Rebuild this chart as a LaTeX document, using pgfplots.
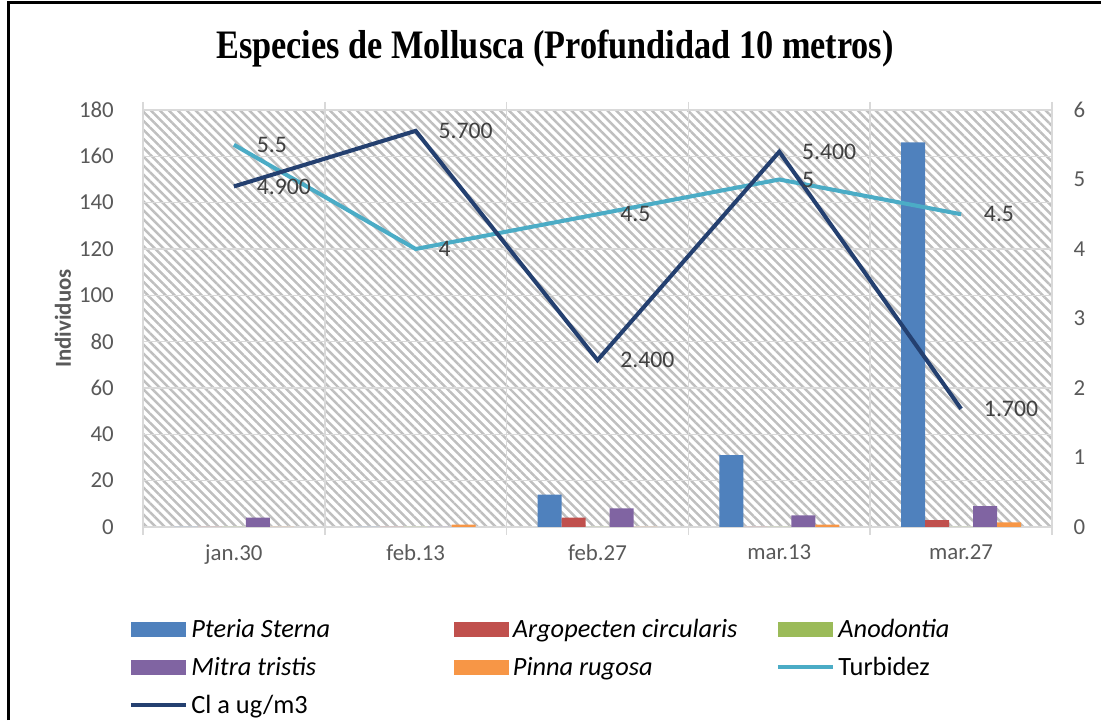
\documentclass[border=0pt]{standalone}
\usepackage{fontspec}
\setmainfont{Carlito}
\newfontfamily\titlefont{Liberation Serif}
\usepackage{pgfplots}
\pgfplotsset{compat=1.18}
\usetikzlibrary{patterns.meta}

\definecolor{cPteria}{RGB}{79,129,189}
\definecolor{cArgo}{RGB}{192,80,77}
\definecolor{cAnod}{RGB}{155,187,89}
\definecolor{cMitra}{RGB}{128,100,162}
\definecolor{cPinna}{RGB}{247,150,70}
\definecolor{cTurb}{RGB}{75,172,198}
\definecolor{cCl}{RGB}{36,64,112}
\definecolor{labgray}{RGB}{89,89,89}
\definecolor{datgray}{RGB}{64,64,64}

\pgfplotsset{
  barleg/.style={legend image code/.code={\fill[##1, draw=none] (0cm,-0.15cm) rectangle (1.1cm,0.15cm);}},
  lineleg/.style={legend image code/.code={\draw[##1] (0cm,0cm) -- (1.1cm,0cm);}},
  common/.style={
    at={(2.86cm,3.86cm)}, anchor=south west,
    scale only axis, width=18.18cm, height=8.34cm,
    xmin=-0.5, xmax=4.5,
    tick label style={font=\fontsize{13}{15}\selectfont, text=labgray},
    /pgf/number format/assume math mode=true,
  },
}

\begin{document}
\begin{tikzpicture}
\useasboundingbox (0,0) rectangle (22.02,14.4);
\draw[line width=0.045cm] (0.17,0) -- (0.17,14.35) -- (22.02,14.35);
\node[font=\titlefont\bfseries\fontsize{19.5}{22}\selectfont] at (11.1,13.42)
  {\scalebox{1}[1.18]{Especies de Mollusca (Profundidad 10 metros)}};

% bars, left axis
\begin{axis}[common,
  ymin=0, ymax=180, ytick={0,20,...,180},
  xtick={0,...,4}, xticklabels={jan.30,feb.13,feb.27,mar.13,mar.27},
  minor xtick={-0.5,0.5,...,4.5},
  major x tick style={draw=none},
  ytick style={draw=none},
  xminorgrids, ymajorgrids,
  grid style={gray!30, line width=0.8pt},
  minor tick length=0.16cm, tick align=outside,
  minor x tick style={gray!30, line width=0.8pt},
  axis line style={gray!30, line width=0.8pt},
  axis background/.style={pattern={Lines[angle=-45,distance=3.6pt,line width=1.4pt]}, pattern color=gray!50},
  xticklabel style={yshift=-0.08cm},
  yticklabel style={xshift=-0.31cm},
  ylabel={Individuos},
  ylabel style={font=\bfseries\fontsize{13}{15}\selectfont, text=labgray,
    at={(axis description cs:-0.088,0.5)}, anchor=center},
  ybar, bar width=0.48cm,
]
\addplot[fill=cPteria, draw=none, bar shift=-0.96cm] coordinates {(0,0) (1,0) (2,14) (3,31) (4,166)};
\addplot[fill=cArgo, draw=none, bar shift=-0.48cm] coordinates {(0,0) (1,0) (2,4) (3,0) (4,3)};
\addplot[fill=cAnod, draw=none, bar shift=0cm] coordinates {(0,0) (1,0) (2,0) (3,0) (4,0)};
\addplot[fill=cMitra, draw=none, bar shift=0.48cm] coordinates {(0,4) (1,0) (2,8) (3,5) (4,9)};
\addplot[fill=cPinna, draw=none, bar shift=0.96cm] coordinates {(0,0) (1,1) (2,0) (3,1) (4,2)};
\end{axis}

% lines, right axis
\begin{axis}[common,
  ymin=0, ymax=6, ytick={0,...,6},
  axis y line*=right, hide x axis,
  y axis line style={draw=none}, ytick style={draw=none},
  yticklabel style={xshift=0.31cm},
  nodes near coords, point meta=explicit symbolic,
  every node near coord/.append style={anchor=west, xshift=0.3cm,
    font=\fontsize{13.5}{16}\selectfont, text=datgray},
  legend style={at={(axis description cs:-0.016,-0.2110)}, anchor=north west,
    draw=none, fill=none, inner sep=0pt, column sep=0pt, row sep=0.2cm,
    font=\fontsize{15}{18}\selectfont, legend columns=3},
  legend cell align=left,
]
\addlegendimage{barleg, fill=cPteria}
\addlegendentry{\makebox[5.19cm][l]{\itshape Pteria Sterna}}
\addlegendimage{barleg, fill=cArgo}
\addlegendentry{\makebox[5.19cm][l]{\itshape Argopecten circularis}}
\addlegendimage{barleg, fill=cAnod}
\addlegendentry{\makebox[5.19cm][l]{\itshape Anodontia}}
\addlegendimage{barleg, fill=cMitra}
\addlegendentry{\makebox[5.19cm][l]{\itshape Mitra tristis}}
\addlegendimage{barleg, fill=cPinna}
\addlegendentry{\makebox[5.19cm][l]{\itshape Pinna rugosa}}
\addplot[cTurb, line width=2.3pt, lineleg] coordinates {(0,5.5) [5.5] (1,4) [4] (2,4.5) [4.5] (3,5) [5] (4,4.5) [4.5]};
\addlegendentry{\makebox[5.19cm][l]{Turbidez}}
\addplot[cCl, line width=2.3pt, lineleg] coordinates {(0,4.9) [4.900] (1,5.7) [5.700] (2,2.4) [2.400] (3,5.4) [5.400] (4,1.7) [1.700]};
\addlegendentry{\makebox[5.19cm][l]{Cl a ug/m3}}
\end{axis}
\end{tikzpicture}
\end{document}
